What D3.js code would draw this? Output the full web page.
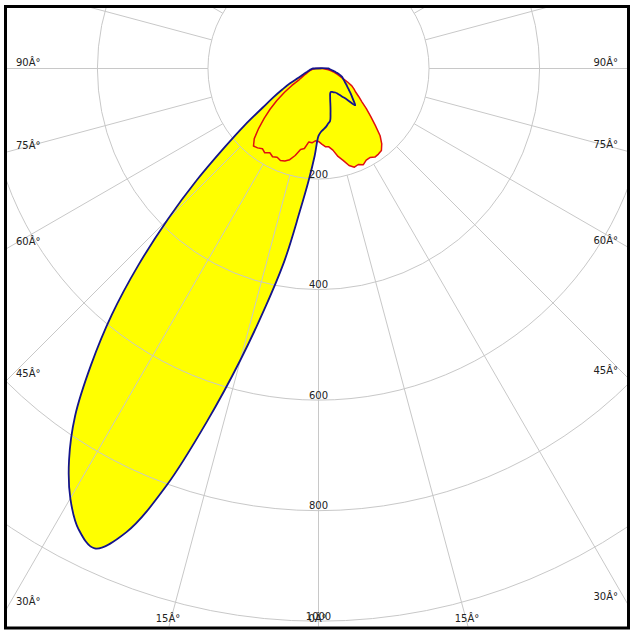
<!DOCTYPE html>
<html><head><meta charset="utf-8">
<script src="https://cdn.jsdelivr.net/npm/d3@7"></script>
<style>body{margin:0;background:#fff}text{font-family:"DejaVu Sans",sans-serif;font-size:10px;fill:#222}</style>
</head><body>
<svg id="c" width="634" height="633"></svg>
<script>
// gamma angles (deg from nadir, negative = left half-plane)
const gammaAngles = d3.range(-90, 90.01, 2.5);
// C-plane shown in blue (cd)
const blueValues = [
  10, 12, 13, 15, 16, 18, 20, 23, 27, 33, 40, 58, 75, 97, 123, 168, 222, 298, 385, 482,
  582, 676, 768, 840, 898, 940, 958, 908, 802, 668, 546, 440, 352, 262, 203, 158,
  122,
  114, 110, 106, 101, 97, 84, 72, 62, 55, 50, 48, 49, 51, 53, 58, 66, 76, 94,
  86, 79, 73, 67, 62, 58, 54, 51, 48, 46, 42, 38, 33, 29, 25, 22, 20, 18
];
// C-plane shown in red (cd)
const redValues = [
  5, 7, 9, 11, 13, 15, 17, 19, 21, 24, 28, 33, 40, 57, 75, 95, 114, 133, 153, 172,
  183, 181, 177, 181, 176, 180, 177, 180, 178, 173, 163, 150, 147, 134, 135, 131,
  132,
  137, 142, 143, 150, 163, 172, 184, 190, 188, 192, 187, 186, 190, 189, 187, 178, 165, 145,
  128, 113, 99, 89, 80, 74, 68, 58, 48, 41, 36, 31, 27, 22, 18, 14, 10, 6
];
const radialTicks = [200, 400, 600, 800, 1000];
const angleLabelTicks = [-90, -75, -60, -45, -30, -15, 0, 15, 30, 45, 60, 75, 90];
const spokeAngles = d3.range(-180, 180, 15);

const W = 634, H = 633;
const cx = 318.5, cy = 68.5;
const frame = {x0: 5.5, y0: 6.5, x1: 628.5, y1: 628};
const inner = {x0: 7, y0: 8, x1: 627, y1: 626.5};
const r = d3.scaleLinear().domain([0, 1000]).range([0, 552.7]);

const svg = d3.select("#c");
svg.append("rect").attr("width", W).attr("height", H).attr("fill", "#fff");
svg.append("defs").append("clipPath").attr("id", "clip")
  .append("rect").attr("x", inner.x0).attr("y", inner.y0)
  .attr("width", inner.x1 - inner.x0).attr("height", inner.y1 - inner.y0);

const g = svg.append("g").attr("clip-path", "url(#clip)");
const plot = g.append("g").attr("transform", `translate(${cx},${cy})`);

const toA = d => (180 - d) * Math.PI / 180;
const blueData = gammaAngles.map((a, i) => ({a, v: blueValues[i]}));
const redData = gammaAngles.map((a, i) => ({a, v: redValues[i]}));

const blueLine = d3.lineRadial().angle(d => toA(d.a)).radius(d => r(d.v))
  .curve(d3.curveCatmullRomClosed.alpha(0.5));
const redLine = d3.lineRadial().angle(d => toA(d.a)).radius(d => r(d.v))
  .curve(d3.curveLinearClosed);

// fills
plot.append("path").attr("d", blueLine(blueData)).attr("fill", "#ffff00");
plot.append("path").attr("d", redLine(redData)).attr("fill", "#ffff00");

// grid
const grid = plot.append("g").attr("fill", "none").attr("stroke", "#c8c8c8").attr("stroke-width", 1);
radialTicks.forEach(t => grid.append("circle").attr("r", r(t)));
spokeAngles.forEach(a => {
  const t = a * Math.PI / 180;
  const r0 = r(200), r1 = r(1400);
  grid.append("line")
    .attr("x1", r0 * Math.sin(t)).attr("y1", r0 * Math.cos(t))
    .attr("x2", r1 * Math.sin(t)).attr("y2", r1 * Math.cos(t));
});

// outlines
plot.append("path").attr("d", redLine(redData)).attr("fill", "none")
  .attr("stroke", "#e01010").attr("stroke-width", 1.5).attr("stroke-linejoin", "round");
plot.append("path").attr("d", blueLine(blueData)).attr("fill", "none")
  .attr("stroke", "#14148c").attr("stroke-width", 1.8).attr("stroke-linejoin", "round");

// radial value labels
radialTicks.forEach(t => {
  svg.append("text").attr("x", cx).attr("y", cy + r(t) - 1.5)
    .attr("text-anchor", "middle").text(t);
});

// angle labels
angleLabelTicks.forEach(a => {
  const t = a * Math.PI / 180;
  const sx = Math.sin(t), sy = Math.cos(t);
  let hx, hy, side;
  const dSide = sx < 0 ? (inner.x0 - cx) / sx : sx > 0 ? (inner.x1 - cx) / sx : Infinity;
  const dBot = sy > 0 ? (inner.y1 - cy) / sy : Infinity;
  if (dSide < dBot) { hx = cx + dSide * sx; hy = cy + dSide * sy; side = sx < 0 ? "L" : "R"; }
  else { hx = cx + dBot * sx; hy = cy + dBot * sy; side = "B"; }
  const label = Math.abs(a) + "Â°";
  const txt = svg.append("text").text(label);
  if (side === "L") txt.attr("x", inner.x0 + 9).attr("y", hy - 3).attr("text-anchor", "start");
  else if (side === "R") txt.attr("x", inner.x1 - 9).attr("y", hy - 3).attr("text-anchor", "end");
  else txt.attr("x", hx - 1).attr("y", inner.y1 - 5).attr("text-anchor", "middle");
});

// frame
svg.append("rect").attr("x", frame.x0).attr("y", frame.y0)
  .attr("width", frame.x1 - frame.x0).attr("height", frame.y1 - frame.y0)
  .attr("fill", "none").attr("stroke", "#000").attr("stroke-width", 3);
</script>
</body></html>
